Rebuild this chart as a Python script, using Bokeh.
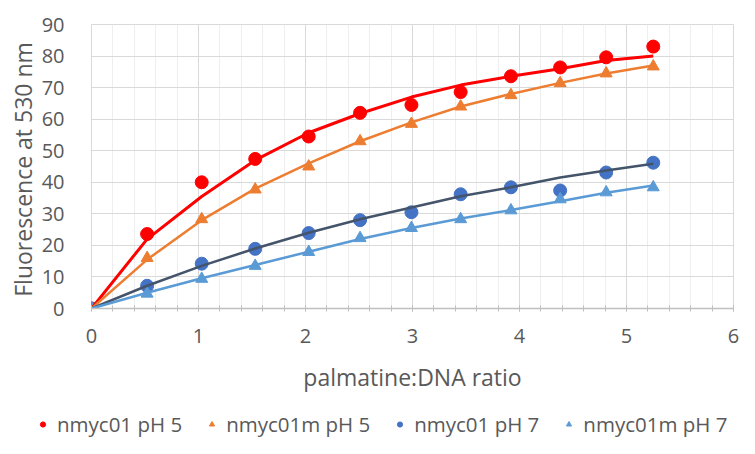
from bokeh.plotting import figure
from bokeh.models import Range1d, Legend, LegendItem, FixedTicker
from bokeh.layouts import column
from bokeh.embed import file_html
from bokeh.resources import INLINE

# ratio values (x)
ratio = [0, 0.52, 1.03, 1.53, 2.03, 2.51, 2.99, 3.45, 3.92, 4.38, 4.81, 5.25]

# measured points
nmyc01_ph5 = [0, 23.6, 40.0, 47.4, 54.5, 62.0, 64.5, 68.6, 73.6, 76.4, 79.6, 83.0]
nmyc01m_ph5 = [0, 16.0, 28.3, 37.7, 45.0, 53.0, 58.5, 64.0, 67.6, 71.4, 74.5, 76.7]
nmyc01_ph7 = [0, 7.2, 14.2, 18.9, 23.9, 28.0, 30.5, 36.2, 38.4, 37.4, 43.1, 46.2]
nmyc01m_ph7 = [0, 4.7, 9.4, 13.5, 17.9, 22.3, 25.5, 28.3, 31.1, 34.6, 36.8, 38.4]

# fitted curves (at the same ratios)
fit_01_ph5 = [0, 22.0, 35.5, 47.0, 55.7, 61.8, 67.0, 70.8, 73.6, 76.0, 78.6, 80.0]
fit_01m_ph5 = [0, 15.5, 28.0, 38.0, 46.0, 53.0, 59.0, 64.0, 68.0, 71.5, 74.5, 77.0]
fit_01_ph7 = [0, 7.2, 13.5, 19.0, 24.0, 28.3, 32.0, 35.6, 38.4, 41.5, 43.7, 45.9]
fit_01m_ph7 = [0, 5.0, 9.6, 13.8, 18.0, 22.0, 25.5, 28.5, 31.2, 34.0, 36.7, 39.0]

labels = ["nmyc01 pH 5", "nmyc01m pH 5", "nmyc01 pH 7", "nmyc01m pH 7"]

x_ticks = [0, 1, 2, 3, 4, 5, 6]
y_ticks = [0, 10, 20, 30, 40, 50, 60, 70, 80, 90]
x_minor = [i / 5 for i in range(31)]

FONT = "Open Sans"
TXT = "#595959"
GRID = "#d9d9d9"

RED = "#ff0000"
ORANGE = "#ed7d31"
BLUE = "#4472c4"
DARK = "#44546a"
LBLUE = "#5b9bd5"

p = figure(width=739, height=400, output_backend="svg", toolbar_location=None,
           x_range=Range1d(0, 6), y_range=Range1d(0, 90),
           min_border_left=91, min_border_right=6, min_border_top=24,
           min_border_bottom=92)
p.frame_align = False

p.background_fill_color = "white"
p.border_fill_color = "white"
p.outline_line_color = GRID

p.xaxis.ticker = FixedTicker(ticks=x_ticks, minor_ticks=x_minor)
p.yaxis.ticker = FixedTicker(ticks=y_ticks)
for ax in (p.xaxis[0], p.yaxis[0]):
    ax.major_label_text_font = FONT
    ax.major_label_text_font_size = "20px"
    ax.major_label_text_color = TXT
    ax.axis_label_text_font = FONT
    ax.axis_label_text_font_size = "23px"
    ax.axis_label_text_color = TXT
    ax.axis_label_text_font_style = "normal"

p.xaxis.axis_label = "palmatine:DNA ratio"
p.yaxis.axis_label = "Fluorescence  at 530 nm"

p.xaxis.axis_line_color = "#bfbfbf"
p.xaxis.axis_line_width = 1.5
p.xaxis.major_tick_line_color = "#bfbfbf"
p.xaxis.minor_tick_line_color = "#bfbfbf"
p.xaxis.major_tick_in = 3
p.xaxis.major_tick_out = 3
p.xaxis.minor_tick_in = 3
p.xaxis.minor_tick_out = 3
p.xaxis.major_label_standoff = 17
p.xaxis.axis_label_standoff = 15

p.yaxis.axis_line_color = None
p.yaxis.major_tick_line_color = None
p.yaxis.minor_tick_line_color = None
p.yaxis.major_label_standoff = 21
p.yaxis.axis_label_standoff = 0

p.xgrid.grid_line_color = GRID
p.xgrid.minor_grid_line_color = "#eeeeee"
p.ygrid.grid_line_color = GRID

p.scatter(ratio, nmyc01_ph5, marker="circle", size=13, color=RED)
p.scatter(ratio, nmyc01m_ph5, marker="triangle", size=12, color=ORANGE)
p.scatter(ratio, nmyc01_ph7, marker="circle", size=13, color=BLUE)
p.scatter(ratio, nmyc01m_ph7, marker="triangle", size=12, color=LBLUE)

p.line(ratio, fit_01_ph5, line_color=RED, line_width=3)
p.line(ratio, fit_01m_ph5, line_color=ORANGE, line_width=2.5)
p.line(ratio, fit_01_ph7, line_color=DARK, line_width=2.5)
p.line(ratio, fit_01m_ph7, line_color=LBLUE, line_width=2.5)

# legend strip under the chart (its own frame, not aligned to the chart's)
lg = figure(width=739, height=38, output_backend="svg", toolbar_location=None,
            x_range=Range1d(-20, -10), y_range=Range1d(0, 1),
            x_axis_location=None, y_axis_location=None, min_border=0)
lg.frame_align = False
lg.grid.visible = False
lg.outline_line_color = None
lg.background_fill_color = "white"
lg.border_fill_color = "white"
g1 = lg.scatter(ratio, nmyc01_ph5, marker="circle", color=RED)
g2 = lg.scatter(ratio, nmyc01m_ph5, marker="triangle", color=ORANGE)
g3 = lg.scatter(ratio, nmyc01_ph7, marker="circle", color=BLUE)
g4 = lg.scatter(ratio, nmyc01m_ph7, marker="triangle", color=LBLUE)

legend = Legend(items=[LegendItem(label=l, renderers=[g])
                       for l, g in zip(labels, [g1, g2, g3, g4])],
                orientation="horizontal", location=(36, 0))
legend.label_text_font = FONT
legend.label_text_font_size = "20.5px"
legend.label_text_color = TXT
legend.glyph_width = 13
legend.glyph_height = 22
legend.label_height = 20
legend.label_standoff = 8
legend.spacing = 23
legend.padding = 0
legend.margin = 0
legend.border_line_color = None
legend.background_fill_alpha = 0
lg.add_layout(legend, "center")

layout = column(p, lg, spacing=0)
open("out.html", "w").write(file_html(layout, INLINE))
